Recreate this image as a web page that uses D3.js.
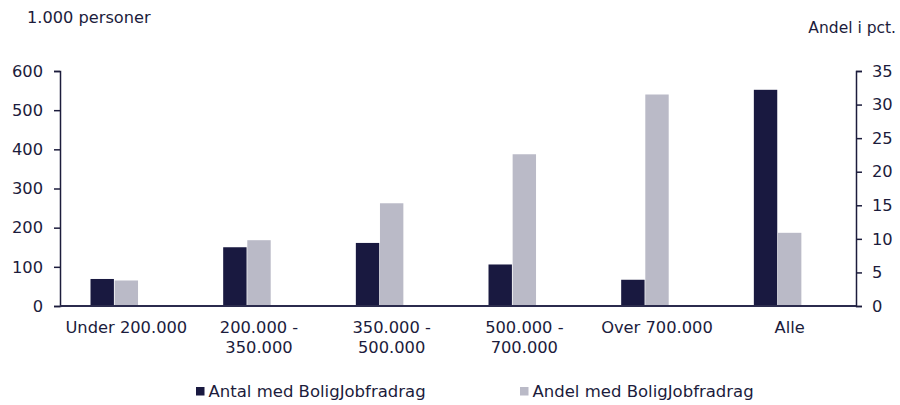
<!DOCTYPE html>
<meta charset="utf-8">
<head>
<style>
html, body {margin:0; padding:0; background:#fff;}
text {font-family: "DejaVu Sans", sans-serif; fill:#1c1c3c;}
</style>
</head>
<script src="https://d3js.org/d3.v7.min.js"></script>
<div id="chart"></div>
<script>

// data
var categories = ["Under 200.000", "200.000 - 350.000", "350.000 - 500.000", "500.000 - 700.000", "Over 700.000", "Alle"]
var catLines = [["Under 200.000"], ["200.000 -", "350.000"], ["350.000 -", "500.000"], ["500.000 -", "700.000"], ["Over 700.000"], ["Alle"]]
var antal = [69, 150, 161, 106, 67, 552]        // 1.000 personer, left axis
var andel = [3.8, 9.8, 15.3, 22.6, 31.5, 10.9]  // pct., right axis
var leftTicks = [0, 100, 200, 300, 400, 500, 600]
var rightTicks = [0, 5, 10, 15, 20, 25, 30, 35]
var seriesNames = ["Antal med BoligJobfradrag", "Andel med BoligJobfradrag"]

var W = 900, H = 405
var margin = {left: 60, right: 856, top: 71, bottom: 306}
var dark = "#191940", light = "#babac7", ink = "#1c1c3c"
var fs = "16.3px"

var svg = d3.select("#chart").append("svg")
  .attr("width", W).attr("height", H)

var x0 = d3.scaleBand().domain(categories).range([margin.left, margin.right])
// third slot is empty, the bars sit left of the band centre as in the original
var x1 = d3.scaleBand().domain(["antal", "andel", "tom"])
  .range([0, x0.bandwidth()]).paddingInner(0.03).paddingOuter(1.265)

var yL = d3.scaleLinear().domain([0, 600]).range([margin.bottom, margin.top])
var yR = d3.scaleLinear().domain([0, 35]).range([margin.bottom, margin.top])

var rows = categories.map(function(c, i) { return {cat: c, antal: antal[i], andel: andel[i]} })

// bars
svg.append("g").selectAll("rect").data(rows).enter().append("rect")
  .attr("x", function(d) { return x0(d.cat) + x1("antal") })
  .attr("y", function(d) { return yL(d.antal) })
  .attr("width", x1.bandwidth())
  .attr("height", function(d) { return margin.bottom - yL(d.antal) })
  .style("fill", dark)

svg.append("g").selectAll("rect").data(rows).enter().append("rect")
  .attr("x", function(d) { return x0(d.cat) + x1("andel") })
  .attr("y", function(d) { return yR(d.andel) })
  .attr("width", x1.bandwidth())
  .attr("height", function(d) { return margin.bottom - yR(d.andel) })
  .style("fill", light)

// axes
var gl = svg.append("g").attr("transform", "translate(" + margin.left + ",0)")
  .call(d3.axisLeft(yL).tickValues(leftTicks).tickSize(6).tickPadding(11).tickSizeOuter(6))
var gr = svg.append("g").attr("transform", "translate(" + margin.right + ",0)")
  .call(d3.axisRight(yR).tickValues(rightTicks).tickSize(6).tickPadding(10).tickSizeOuter(6))
;[gl, gr].forEach(function(g) {
  g.selectAll("line").style("stroke", ink).style("stroke-width", 1.5)
  g.select(".domain").style("stroke", ink).style("stroke-width", 1.5)
  g.selectAll("text").style("font-size", fs).style("fill", ink).style("font-family", '"DejaVu Sans", sans-serif')
})

svg.append("line")
  .attr("x1", margin.left).attr("x2", margin.right).attr("y1", margin.bottom).attr("y2", margin.bottom)
  .style("stroke", "#2b2b4d").style("stroke-width", 2)

// category labels
var lab = svg.append("g").selectAll("text").data(categories).enter().append("text")
  .attr("text-anchor", "middle")
  .attr("x", function(d) { return x0(d) + x0.bandwidth() / 2 })
  .attr("y", 333)
  .style("font-size", fs)
lab.each(function(d, i) {
  var t = d3.select(this)
  catLines[i].forEach(function(line, j) {
    t.append("tspan").attr("x", x0(d) + x0.bandwidth() / 2).attr("dy", j == 0 ? 0 : 20).text(line)
  })
})

// axis titles
svg.append("text").attr("x", 27).attr("y", 23).style("font-size", "16.2px").text("1.000 personer")
svg.append("text").attr("x", 896).attr("y", 33).attr("text-anchor", "end").style("font-size", "15.5px").text("Andel i pct.")

// legend
var legX = [196, 520]
var legend = svg.append("g").selectAll("g").data(seriesNames).enter().append("g")
  .attr("transform", function(d, i) { return "translate(" + legX[i] + ",387)" })
legend.append("rect").attr("width", 8.5).attr("height", 8.5)
  .style("fill", function(d, i) { return i == 0 ? dark : light })
legend.append("text").attr("x", 12.5).attr("y", 10).style("font-size", "16.5px").text(function(d) { return d })

</script>
